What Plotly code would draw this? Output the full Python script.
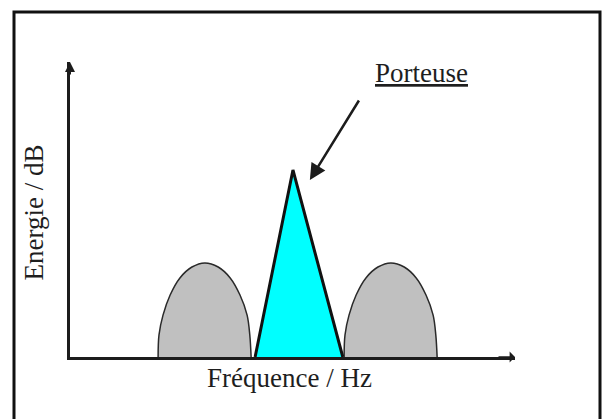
import plotly.graph_objects as go

# ---- data (arbitrary units: frequency 0-100, energy 0-100) ----
freq_left_lobe = [19.8, 20.0, 20.9, 22.5, 24.7, 27.4, 30.3, 33.3, 36.0, 38.2, 39.8, 40.4, 40.7]
energy_left_lobe = [0, 7.5, 14.2, 21.0, 26.8, 30.5, 31.9, 30.5, 26.8, 21.0, 14.2, 7.5, 0]

freq_right_lobe = [61.6, 61.8, 62.7, 64.3, 66.5, 69.2, 72.1, 75.1, 77.8, 80.0, 81.6, 82.2, 82.5]
energy_right_lobe = [0, 7.5, 14.2, 21.0, 26.8, 30.5, 31.9, 30.5, 26.8, 21.0, 14.2, 7.5, 0]

freq_carrier = [41.6, 50.1, 61.3]
energy_carrier = [0, 63.4, 0]

x_title = "Fréquence / Hz"
y_title = "Energie / dB"
carrier_label = "Porteuse"

FONT = "Liberation Serif"
INK = "#1c1c1c"
TEXT = "#1e1e1e"

fig = go.Figure()

for fx, fy in [(freq_left_lobe, energy_left_lobe), (freq_right_lobe, energy_right_lobe)]:
    fig.add_trace(go.Scatter(
        x=fx, y=fy, mode="lines", fill="toself", fillcolor="#c0c0c0",
        line=dict(color="#2a2a2a", width=1.5, shape="spline", smoothing=1.0),
        hoverinfo="skip", showlegend=False,
    ))

fig.add_trace(go.Scatter(
    x=freq_carrier, y=energy_carrier, mode="lines", fill="toself", fillcolor="#00ffff",
    line=dict(color="#111111", width=3),
    hoverinfo="skip", showlegend=False,
))

W, H = 607, 419
L, R, T, B = 70, 92, 62, 62

fig.update_xaxes(range=[0, 100], showline=True, linewidth=3, linecolor=INK,
                 showgrid=False, zeroline=False, showticklabels=False, ticks="")
fig.update_yaxes(range=[0, 100], showline=True, linewidth=3, linecolor=INK,
                 showgrid=False, zeroline=False, showticklabels=False, ticks="")

annotations = [
    # axis titles
    dict(text=x_title, xref="paper", yref="paper", x=0.494, y=-0.072,
         xanchor="center", yanchor="middle", showarrow=False,
         font=dict(family=FONT, size=27, color=TEXT)),
    dict(text=y_title, xref="paper", yref="paper", x=-0.081, y=0.49,
         xanchor="center", yanchor="middle", textangle=-90, showarrow=False,
         font=dict(family=FONT, size=27, color=TEXT)),
    # carrier label
    dict(text="<u>" + carrier_label + "</u>", xref="paper", yref="paper",
         x=(421 - L) / 445, y=(357 - 73) / 295, xanchor="center", yanchor="middle",
         showarrow=False, font=dict(family=FONT, size=27, color=TEXT)),
    # arrow to carrier
    dict(text="", x=53.9, y=60.0, xref="x", yref="y", ax=50, ay=-81,
         showarrow=True, arrowhead=2, arrowsize=1.3, arrowwidth=2.5, arrowcolor=INK),
    # axis arrow heads
    dict(text="", xref="paper", yref="paper", x=1.0, y=0, ax=-18, ay=0,
         showarrow=True, arrowhead=1, arrowsize=1.2, arrowwidth=1.5, arrowcolor=INK),
    dict(text="", xref="paper", yref="paper", x=0, y=1.0, ax=0, ay=14,
         showarrow=True, arrowhead=2, arrowsize=1.0, arrowwidth=2, arrowcolor=INK),
]

shapes = [
    dict(type="rect", xref="paper", yref="paper",
         x0=(14 - L) / 445, x1=(600 - L) / 445,
         y0=(357 - 430) / 295, y1=(357 - 12) / 295,
         line=dict(color="#111111", width=3), fillcolor="rgba(0,0,0,0)", layer="above"),
]

fig.update_layout(
    width=W, height=H,
    margin=dict(l=L, r=R, t=T, b=B),
    paper_bgcolor="white", plot_bgcolor="white",
    annotations=annotations, shapes=shapes,
    showlegend=False,
)

fig.write_html(
    "out.html",
    config={"displayModeBar": False, "staticPlot": True},
    post_script="document.body.style.margin='0';document.body.style.overflow='hidden';",
)
